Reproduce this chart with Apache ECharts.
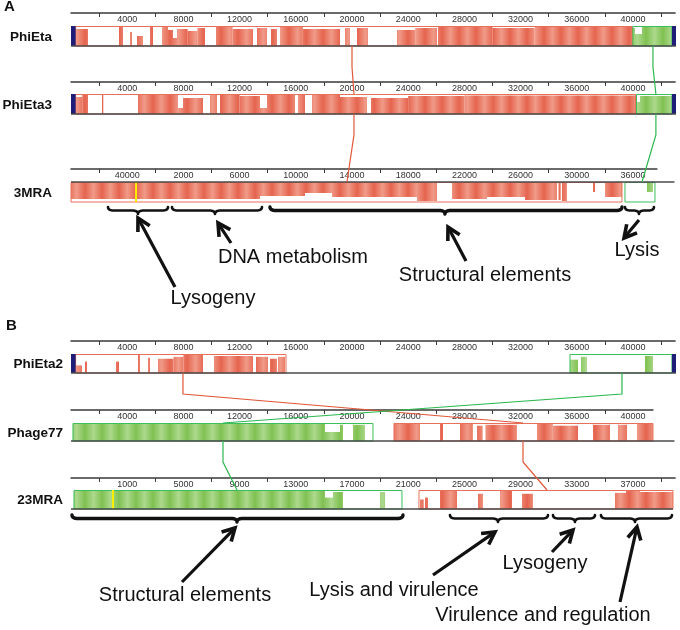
<!DOCTYPE html>
<html><head><meta charset="utf-8">
<script src="https://cdn.jsdelivr.net/npm/echarts@6/dist/echarts.min.js"></script>
<style>html,body{margin:0;padding:0;background:#fff}#c{width:680px;height:630px}</style>
</head><body><div id="c"></div>
<script>
// ================= DATA =================
const trackNames = ['PhiEta', 'PhiEta3', '3MRA', 'PhiEta2', 'Phage77', '23MRA'];
const trackLengths = [43000, 43000, 41700, 43000, 41420, 43000];
const tickLabelsStd = ['4000','8000','12000','16000','20000','24000','28000','32000','36000','40000'];
const tickLabels3MRA = ['40000','2000','6000','10000','14000','18000','22000','26000','30000','36000'];
const tickLabels23MRA = ['1000','5000','9000','13000','17000','21000','25000','29000','33000','37000'];
const tickLabelsByTrack = [tickLabelsStd, tickLabelsStd, tickLabels3MRA, tickLabelsStd, tickLabelsStd, tickLabels23MRA];

// LCBs: [start, end, colour(0 red / 1 green)]
const lcbPhiEta  = [[330,39960,0],[39990,42773,1]];
const lcbPhiEta3 = [[330,40180,0],[40250,42773,1]];
const lcb3MRA    = [[0,39215,0],[39428,41563,1]];
const lcbPhiEta2 = [[330,15302,0],[35514,42773,1]];
const lcbPhage77 = [[140,21493,1],[22988,41421,0]];
const lcb23MRA   = [[213,23557,1],[24767,42844,0]];

// similarity profiles: [start, end, height 0..1]
const profPhiEta = [[356,1210,0.85],[3416,3701,1],[4199,4341,0.7],[4697,5124,0.5],[5622,5836,1],[6477,6900,0.95],[6900,7259,0.8],[7259,7544,0.4],[7544,8300,0.85],[8300,9000,0.75],[9000,9537,0.9],[10320,11500,0.95],[11500,12953,0.85],[13238,13949,0.9],[14234,14661,0.85],[14875,16500,0.95],[16500,19145,0.85],[19500,19857,0.9],[20355,21137,0.9],[23201,24500,0.8],[24500,26048,0.9],[26119,30000,0.95],[30000,33000,0.9],[33000,39927,0.97],[39998,40140,0.9],[40140,40638,0.6],[40638,42773,0.95]];
const profPhiEta3 = [[356,800,0.85],[800,1210,0.95],[2205,2300,1],[4768,7615,1],[7615,7971,0.3],[7971,9394,0.8],[9893,10391,1],[10604,12000,0.95],[12000,13451,0.9],[13451,13949,0.3],[13949,15942,1],[16156,16654,1],[17152,19145,0.95],[19145,21066,0.85],[21351,24000,0.8],[24000,28000,0.9],[28000,40140,0.93],[40282,40500,0.6],[40500,42773,0.9]];
const prof3MRA = [[0,13451,0.85],[13451,16654,0.7],[16654,18575,0.55],[18575,21066,0.75],[21066,24625,0.75],[24625,26048,0.95],[27116,29607,0.85],[29607,32311,0.75],[32311,34588,0.9],[34700,34850,0.9],[34944,35300,0.95],[37151,37300,0.5],[38005,39215,0.75],[40994,41421,0.5]];
const profPhiEta2 = [[356,783,0.4],[996,1139,0.6],[3203,3416,0.6],[4768,4911,1],[5480,5622,0.8],[6192,7300,0.75],[7300,8000,0.85],[8000,9394,1],[10177,12953,0.9],[13166,14020,0.85],[14163,14661,0.75],[14732,15230,0.85],[35514,36083,0.7],[36300,36724,0.85],[40851,41421,0.9]];
const profPhage77 = [[140,18077,0.97],[18077,19145,0.5],[19145,19358,0.9],[20070,20924,0.9],[22988,24838,1],[26262,26475,1],[27685,28600,1],[28900,29300,0.85],[29500,31742,0.9],[33165,34300,1],[34300,36083,0.85],[37151,38361,0.9],[38930,39571,0.9],[40282,41421,0.95]];
const prof23MRA = [[213,18077,0.97],[18077,18647,0.6],[18647,19358,0.9],[21991,22347,0.9],[24838,25100,0.5],[25200,25408,0.6],[26262,27472,1],[28966,29322,0.8],[30532,31386,1],[32098,32880,0.8],[38716,39500,0.85],[39500,40500,0.95],[40500,42844,0.9]];

const blueMarkers = [[[0,330],[42773,43060]], [[0,330],[42773,43060]], [], [[0,330],[42773,43060]], [], []];
const yellowMarkers = [[], [], [[4560,4700]], [], [], [[2920,3060]]];
const centerLineEnd = [43060, 43060, 42950, 43060, 42950, 42844];
const invertedTrack = [false, false, true, false, false, false];

// LCB connectors: [trackIndex, position]
const connRedA   = [[0,20000],[1,20140],[2,19640]];
const connGreenA = [[0,41420],[1,41630],[2,40640]];
const connRedB   = [[3,7970],[4,32170],[5,33880]];
const connGreenB = [[3,39215],[4,10818],[5,11814]];

// annotation braces: [start, end, centre] on the track below which they sit
const bracesA = [[2633,6903,4768],[7188,13594,10248],[14163,39215,26617],[39428,41492,40425]];
const bracesB = [[71,23628,11814],[26973,33948,30389],[34304,37293,35869],[37720,42773,40140]];
const labelsA = ['Lysogeny', 'DNA metabolism', 'Structural elements', 'Lysis'];
const labelsB = ['Structural elements', 'Lysis and virulence', 'Lysogeny', 'Virulence and regulation'];

const lcbs = [lcbPhiEta, lcbPhiEta3, lcb3MRA, lcbPhiEta2, lcbPhage77, lcb23MRA];
const profiles = [profPhiEta, profPhiEta3, prof3MRA, profPhiEta2, profPhage77, prof23MRA];

// ================= LAYOUT =================
const FONT = '"Liberation Sans", Arial, sans-serif';
const BP_PER_PX = 4000 / 56.2;
const rulerY = [13, 82, 169, 341, 410, 478];
const boxTop = [26, 94, 182, 354, 423, 490];
const boxBottom = [46, 114, 202, 373, 441, 509];
const nameRight = [52, 52, 52, 63, 63, 63];

function stripe(c1, c2) {
  const cv = document.createElement('canvas'); cv.width = 17; cv.height = 4;
  const g = cv.getContext('2d'); const gr = g.createLinearGradient(0, 0, 17, 0);
  gr.addColorStop(0, c1); gr.addColorStop(0.5, c2); gr.addColorStop(1, c1);
  g.fillStyle = gr; g.fillRect(0, 0, 17, 4); return cv;
}
const fills = [
  { image: stripe('#E5644E', '#F09A88'), repeat: 'repeat' },
  { image: stripe('#80C152', '#ACD98D'), repeat: 'repeat' }
];
const outlineCols = ['#E8705A', '#3DBE5C'];

function colourAt(lcb, pos) {
  for (const b of lcb) if (pos >= b[0] && pos <= b[1]) return b[2];
  return 0;
}

const grids = [], xAxes = [], yAxes = [], series = [];
trackNames.forEach((name, i) => {
  const L = trackLengths[i];
  const gh = boxBottom[i] - rulerY[i];
  const bh = boxBottom[i] - boxTop[i];
  grids.push({ left: 71, top: rulerY[i], width: L / BP_PER_PX, height: gh });
  const tickVals = [], labVals = [];
  for (let v = 2000; v < L; v += 4000) tickVals.push(v);
  const labs = tickLabelsByTrack[i];
  for (let k = 1; k <= labs.length; k++) labVals.push(k * 4000);
  xAxes.push({
    gridIndex: i, type: 'value', position: 'top', min: 0, max: L,
    axisLine: { show: true, onZero: false, lineStyle: { color: '#3a3a3a', width: 1.5 } },
    axisTick: { show: true, inside: true, length: 4, customValues: tickVals, lineStyle: { color: '#3a3a3a', width: 1 } },
    axisLabel: { show: true, inside: true, customValues: labVals, margin: 2, fontSize: 9, color: '#333', fontFamily: FONT,
      formatter: v => labs[Math.round(v / 4000) - 1] || '' },
    splitLine: { show: false }
  });
  yAxes.push({ gridIndex: i, type: 'value', min: 0, max: gh / bh, show: false });

  const inv = invertedTrack[i];
  series.push({
    type: 'custom', xAxisIndex: i, yAxisIndex: i, clip: false, silent: true, z: 2,
    data: profiles[i].map(s => [s[0], s[1], s[2], colourAt(lcbs[i], (s[0] + s[1]) / 2)]),
    renderItem: (p, api) => {
      const a = api.value(0), b = api.value(1), h = api.value(2), c = api.value(3);
      const p0 = api.coord([a, inv ? 1 : 0]), p1 = api.coord([b, inv ? 1 - h : h]);
      return { type: 'rect', shape: { x: p0[0], y: Math.min(p0[1], p1[1]), width: p1[0] - p0[0], height: Math.abs(p1[1] - p0[1]) },
        style: { fill: fills[c] } };
    }
  });
  series.push({
    type: 'custom', xAxisIndex: i, yAxisIndex: i, clip: false, silent: true, z: 3,
    data: lcbs[i],
    renderItem: (p, api) => {
      const p0 = api.coord([api.value(0), 1]), p1 = api.coord([api.value(1), 0]);
      return { type: 'rect', shape: { x: p0[0], y: p0[1] + 0.5, width: p1[0] - p0[0], height: p1[1] - p0[1] - 0.5 },
        style: { fill: null, stroke: outlineCols[api.value(2)], lineWidth: 1 } };
    }
  });
  const mk = blueMarkers[i].map(m => [m[0], m[1], 0]).concat(yellowMarkers[i].map(m => [m[0], m[1], 1]));
  series.push({
    type: 'custom', xAxisIndex: i, yAxisIndex: i, clip: false, silent: true, z: 4,
    data: mk,
    renderItem: (p, api) => {
      const p0 = api.coord([api.value(0), 1]), p1 = api.coord([api.value(1), 0]);
      return { type: 'rect', shape: { x: p0[0], y: p0[1], width: p1[0] - p0[0], height: p1[1] - p0[1] },
        style: { fill: api.value(2) ? '#FFF000' : '#1E1E78' } };
    }
  });
  series.push({
    type: 'custom', xAxisIndex: i, yAxisIndex: i, clip: false, silent: true, z: 5,
    data: [[0, centerLineEnd[i], inv ? 1 : 0]],
    renderItem: (p, api) => {
      const p0 = api.coord([api.value(0), api.value(2)]), p1 = api.coord([api.value(1), api.value(2)]);
      return { type: 'line', shape: { x1: p0[0], y1: p0[1], x2: p1[0], y2: p1[1] },
        style: { stroke: '#4a4a4a', lineWidth: 1.5 } };
    }
  });
});

const chart = echarts.init(document.getElementById('c'));
chart.setOption({ animation: false, backgroundColor: '#fff', grid: grids, xAxis: xAxes, yAxis: yAxes, series: series });

// ================= GRAPHIC OVERLAY =================
function px(t, pos, yv) { return chart.convertToPixel({ xAxisIndex: t, yAxisIndex: t }, [pos, yv]); }
const g = [];
function text(str, x, y, font, align) {
  g.push({ type: 'text', x: x, y: y, z: 100, style: { text: str, font: font, fill: '#111', align: align || 'center', verticalAlign: 'middle' } });
}
trackNames.forEach((n, i) => text(n, nameRight[i], (boxTop[i] + boxBottom[i]) / 2 + 1, 'bold 13.5px ' + FONT, 'right'));
text('A', 4, 7, 'bold 15px ' + FONT, 'left');
text('B', 6, 326, 'bold 15px ' + FONT, 'left');

function connector(points, colour) {
  for (let k = 0; k < points.length - 1; k++) {
    const [ta, ba] = points[k], [tb, bb] = points[k + 1];
    const a = px(ta, ba, 0), b = px(tb, bb, 1);
    g.push({ type: 'polyline', z: 50, shape: { points: [[a[0], boxBottom[ta]], [a[0], boxBottom[ta] + 21], [b[0], boxTop[tb]]] },
      style: { stroke: colour, lineWidth: 1.2, fill: null } });
  }
}
connector(connRedA, '#E0583A'); connector(connGreenA, '#2DB84F');
connector(connRedB, '#E0583A'); connector(connGreenB, '#2DB84F');

function quad(p0, c, p1, out) {
  for (let s = 1; s <= 8; s++) {
    const t = s / 8, u = 1 - t;
    out.push([u * u * p0[0] + 2 * u * t * c[0] + t * t * p1[0], u * u * p0[1] + 2 * u * t * c[1] + t * t * p1[1]]);
  }
}
function brace(t, br, yTop, d, lw) {
  const x1 = px(t, br[0], 0)[0], x2 = px(t, br[1], 0)[0], xc = px(t, br[2], 0)[0];
  const y = yTop, r = 6, pts = [[x1, y]];
  quad([x1, y], [x1, y + d], [x1 + r, y + d], pts);
  pts.push([xc - r, y + d]);
  quad([xc - r, y + d], [xc, y + d], [xc, y + 2 * d], pts);
  quad([xc, y + 2 * d], [xc, y + d], [xc + r, y + d], pts);
  pts.push([x2 - r, y + d]);
  quad([x2 - r, y + d], [x2, y + d], [x2, y], pts);
  g.push({ type: 'polyline', z: 60, shape: { points: pts }, style: { stroke: '#111', lineWidth: lw, fill: null, lineJoin: 'round', lineCap: 'round' } });
}
bracesA.forEach((b, k) => brace(2, b, 207, 3.5, k === 2 ? 3.4 : 2.6));
bracesB.forEach((b, k) => brace(5, b, 515, 3.5, k === 0 ? 3.4 : 2.6));

function arrow(tail, tip) {
  const dx = tip[0] - tail[0], dy = tip[1] - tail[1], L = Math.hypot(dx, dy), ux = dx / L, uy = dy / L;
  const hl = 14, an = 0.5;
  const rot = a => [tip[0] - hl * (ux * Math.cos(a) - uy * Math.sin(a)), tip[1] - hl * (uy * Math.cos(a) + ux * Math.sin(a))];
  g.push({ type: 'line', z: 70, shape: { x1: tail[0], y1: tail[1], x2: tip[0] - ux * 1.5, y2: tip[1] - uy * 1.5 }, style: { stroke: '#111', lineWidth: 3.2 } });
  g.push({ type: 'polyline', z: 70, shape: { points: [rot(an), tip, rot(-an)] }, style: { stroke: '#111', lineWidth: 3.6, fill: null, lineJoin: 'miter' } });
}
arrow([175, 287], [138, 218]);
arrow([231, 243], [218, 223]);
arrow([466, 261], [448, 227]);
arrow([639, 220], [624, 238]);
const F20 = '20px ' + FONT;
text(labelsA[0], 213, 298, F20);
text(labelsA[1], 293, 257, F20);
text(labelsA[2], 485, 275, F20);
text(labelsA[3], 637, 250, F20);
arrow([182, 582], [235, 528]);
arrow([433, 575], [495, 532]);
arrow([552, 552], [573, 530]);
arrow([620, 602], [637, 527]);
text(labelsB[0], 185, 595, F20);
text(labelsB[1], 394, 590, F20);
text(labelsB[2], 545, 563, F20);
text(labelsB[3], 543, 615, F20);

chart.setOption({ graphic: { elements: g } });
</script></body></html>
